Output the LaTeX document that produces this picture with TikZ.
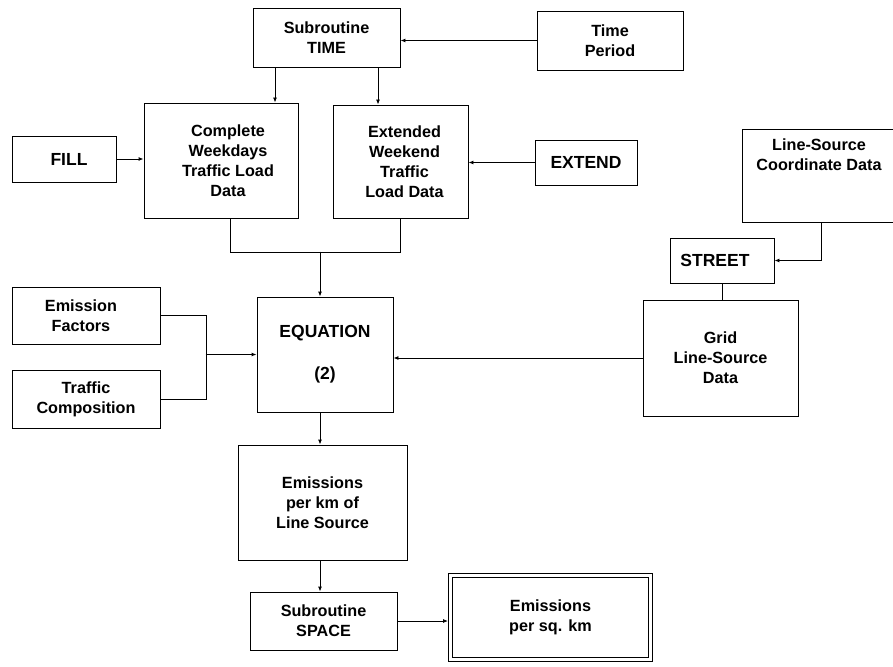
\documentclass[tikz,border=0pt]{standalone}
\usepackage{fontspec}
\setmainfont{Liberation Sans}
\usetikzlibrary{arrows.meta,calc}
\begin{document}
\begin{tikzpicture}[x=1pt,y=-1pt,
  box/.style={draw,line width=0.9pt,align=center,inner sep=0pt,
    font=\bfseries\fontsize{16.2}{20}\selectfont},
  capbox/.style={box,font=\bfseries\fontsize{17.5}{20}\selectfont},
  arr/.style={line width=0.9pt,-{Latex[length=5pt,width=4pt]}},
  ln/.style={line width=0.9pt}]
\useasboundingbox (0,0) rectangle (893,666);
% nodes
\node[box,minimum width=147pt,minimum height=59pt] (time) at (326.5,37.5) {Subroutine\\TIME};
\node[box,minimum width=146pt,minimum height=59pt] (period) at (610,40.5) {Time\\Period};
\node[box,minimum width=154pt,minimum height=115pt] (wkday) at (221,160.5) {\hspace*{14pt}Complete\\\hspace*{14pt}Weekdays\\\hspace*{14pt}Traffic Load\\\hspace*{14pt}Data};
\node[box,minimum width=135pt,minimum height=113pt] (wkend) at (400.5,161.5) {\hspace*{8pt}Extended\\\hspace*{8pt}Weekend\\\hspace*{8pt}Traffic\\\hspace*{8pt}Load Data};
\node[capbox,minimum width=104pt,minimum height=46pt] (fill) at (64,159) {\hspace*{10pt}FILL};
\node[capbox,minimum width=102pt,minimum height=45pt] (extend) at (586,162.5) {EXTEND};
\node[box,minimum width=154pt,minimum height=93pt] (lscd) at (819,175.5) {Line-Source\\Coordinate Data\\[22pt]\mbox{}};
\node[capbox,minimum width=104pt,minimum height=45pt] (street) at (722,260.5) {STREET\hspace*{14pt}};
\node[box,minimum width=155pt,minimum height=116pt] (grid) at (720.5,358) {Grid\\Line-Source\\Data};
\node[box,minimum width=148pt,minimum height=57pt] (ef) at (86,315.5) {Emission\hspace*{10pt}\\Factors\hspace*{10pt}};
\node[box,minimum width=148pt,minimum height=58pt] (tc) at (86,399) {Traffic\\Composition};
\node[capbox,minimum width=136pt,minimum height=115pt] (eq) at (325,354.5) {EQUATION\\[22pt](2)};
\node[box,minimum width=169pt,minimum height=115pt] (epk) at (322.5,502.5) {Emissions\\per km of\\Line Source};
\node[box,minimum width=147pt,minimum height=58pt] (space) at (323.5,621) {Subroutine\\SPACE};
\node[box,double,double distance=3.5pt,line width=0.9pt,minimum width=200pt,minimum height=84pt] (epsk) at (550.5,617.5) {Emissions\\per sq. km};
% connectors
\draw[arr] (period.west) -- (period.west -| time.east);
\draw[arr] ([xshift=-51.5pt]time.south) -- ([xshift=54pt]wkday.north);
\draw[arr] ([xshift=51.5pt]time.south) -- ([xshift=-22.5pt]wkend.north);
\draw[arr] (fill.east) -- (fill.east -| wkday.west);
\draw[arr] (extend.west) -- (extend.west -| wkend.east);
\draw[ln] ([xshift=9pt]wkday.south) -- ++(0,34) -| (wkend.south);
\draw[arr] ([xshift=-5pt]eq.north) ++(0,-45) -- ([xshift=-5pt]eq.north);
\draw[ln] (ef.east) -- ++(46,0) |- (tc.east);
\draw[arr] (eq.west) ++(-51,0) -- (eq.west);
\draw[arr] (grid.west) -- (grid.west -| eq.east);
\draw[arr] ([xshift=2pt]lscd.south) |- (street.east);
\draw[ln] (street.south) -- (street.south |- grid.north);
\draw[arr] ([xshift=-5pt]eq.south) -- ([xshift=-2.5pt]epk.north);
\draw[arr] ([xshift=-2.5pt]epk.south) -- ([xshift=-3.5pt]space.north);
\draw[arr,shorten >=2pt] (space.east) -- (space.east -| epsk.west);
\end{tikzpicture}
\end{document}
